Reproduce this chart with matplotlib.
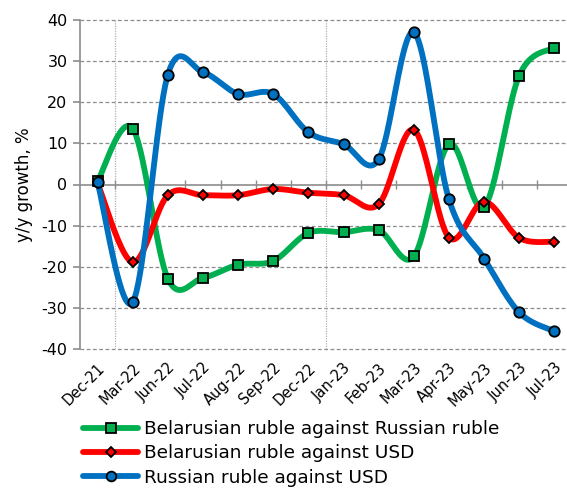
import numpy as np
import matplotlib
matplotlib.use("Agg")
import matplotlib.pyplot as plt
from matplotlib.lines import Line2D

categories = ["Dec-21", "Mar-22", "Jun-22", "Jul-22", "Aug-22", "Sep-22", "Dec-22",
              "Jan-23", "Feb-23", "Mar-23", "Apr-23", "May-23", "Jun-23", "Jul-23"]
byn_rub = [0.8, 13.6, -22.9, -22.7, -19.5, -18.6, -11.8, -11.6, -11.1, -17.5, 9.8, -5.5, 26.5, 33.3]
byn_usd = [0.3, -18.9, -2.6, -2.6, -2.6, -1.1, -2.0, -2.6, -4.8, 13.3, -12.9, -4.2, -13.0, -13.9]
rub_usd = [0.5, -28.6, 26.7, 27.3, 22.0, 22.0, 12.7, 9.8, 6.1, 37.0, -3.6, -18.0, -31.1, -35.7]
series_names = ["Belarusian ruble against Russian ruble",
                "Belarusian ruble against USD",
                "Russian ruble against USD"]
yticks = [-40, -30, -20, -10, 0, 10, 20, 30, 40]

plt.rcParams['font.family'] = ['DejaVu Sans']

def smooth(xs, ys, n=40):
    pts = np.column_stack([xs, ys]).astype(float)
    out = []
    m = len(pts)
    for i in range(m - 1):
        p0 = pts[i - 1] if i > 0 else pts[i]
        p1 = pts[i]
        p2 = pts[i + 1]
        p3 = pts[i + 2] if i + 2 < m else pts[i + 1]
        c1 = p1 + (p2 - p0) / 6.0
        c2 = p2 - (p3 - p1) / 6.0
        t = np.linspace(0, 1, n)[:, None]
        b = ((1 - t) ** 3) * p1 + 3 * ((1 - t) ** 2) * t * c1 + 3 * (1 - t) * t ** 2 * c2 + t ** 3 * p2
        out.append(b if i == 0 else b[1:])
    out = np.vstack(out)
    return out[:, 0], out[:, 1]

fig = plt.figure(figsize=(5.67, 4.91), dpi=100)
ax = fig.add_axes([80 / 567, 1 - 349 / 491, 1 - 80 / 567, (349 - 20) / 491])

x = np.arange(len(categories))
styles = [
    (byn_rub, "#00B050", "s", 7),
    (byn_usd, "#FF0000", "D", 5.5),
    (rub_usd, "#0070C0", "o", 7.5),
]
handles = []
for (vals, col, mk, ms), name in zip(styles, series_names):
    sx, sy = smooth(x, vals)
    ax.plot(sx, sy, color=col, lw=4.2, solid_capstyle='round', zorder=3)
    ax.plot(x, vals, ls='none', marker=mk, ms=ms, mfc=col, mec='black', mew=1.3, zorder=4)
    handles.append(Line2D([0], [0], color=col, lw=4.2, marker=mk, ms=ms - 0.5,
                          mfc=col, mec='black', mew=1.3, solid_capstyle='round'))

ax.set_xlim(-0.5, 13.36)
ax.set_ylim(-40, 40)
ax.set_yticks(yticks)
ax.set_yticklabels([str(v) for v in yticks], fontsize=11.5)
for v in yticks:
    if v != 0:
        ax.axhline(v, color='#8c8c8c', lw=0.9, ls=(0, (3, 2)), zorder=1, clip_on=False)
for xv in [0.5, 6.5]:
    ax.axvline(xv, color='#b0b0b0', lw=0.9, ls=(0, (1, 1)), zorder=1)

for s in ['top', 'right', 'bottom']:
    ax.spines[s].set_visible(False)
ax.spines['left'].set_color('#8c8c8c')
ax.spines['left'].set_linewidth(1.2)
ax.axhline(0, color='#8c8c8c', lw=1.2, zorder=2)
ax.vlines(np.arange(-0.5, 13.5, 1.0)[1:], -1.0, 1.0, color='#8c8c8c', lw=1.0, zorder=2)

ax.tick_params(axis='y', length=5, color='#8c8c8c', width=1.2, pad=4)
ax.set_xticks(x)
ax.set_xticklabels(categories, rotation=45, ha='right', rotation_mode='anchor', fontsize=10.5)
ax.tick_params(axis='x', length=0, pad=8)
ax.set_ylabel("y/y growth, %", fontsize=12, labelpad=6)

fig.legend(handles, series_names, loc='upper left', bbox_to_anchor=(83 / 567, 1 - 420 / 491),
           frameon=False, fontsize=13.3, handlelength=3.0, handletextpad=0.3,
           labelspacing=0.35, borderaxespad=0, borderpad=0)

fig.savefig("out.png", dpi=100)
